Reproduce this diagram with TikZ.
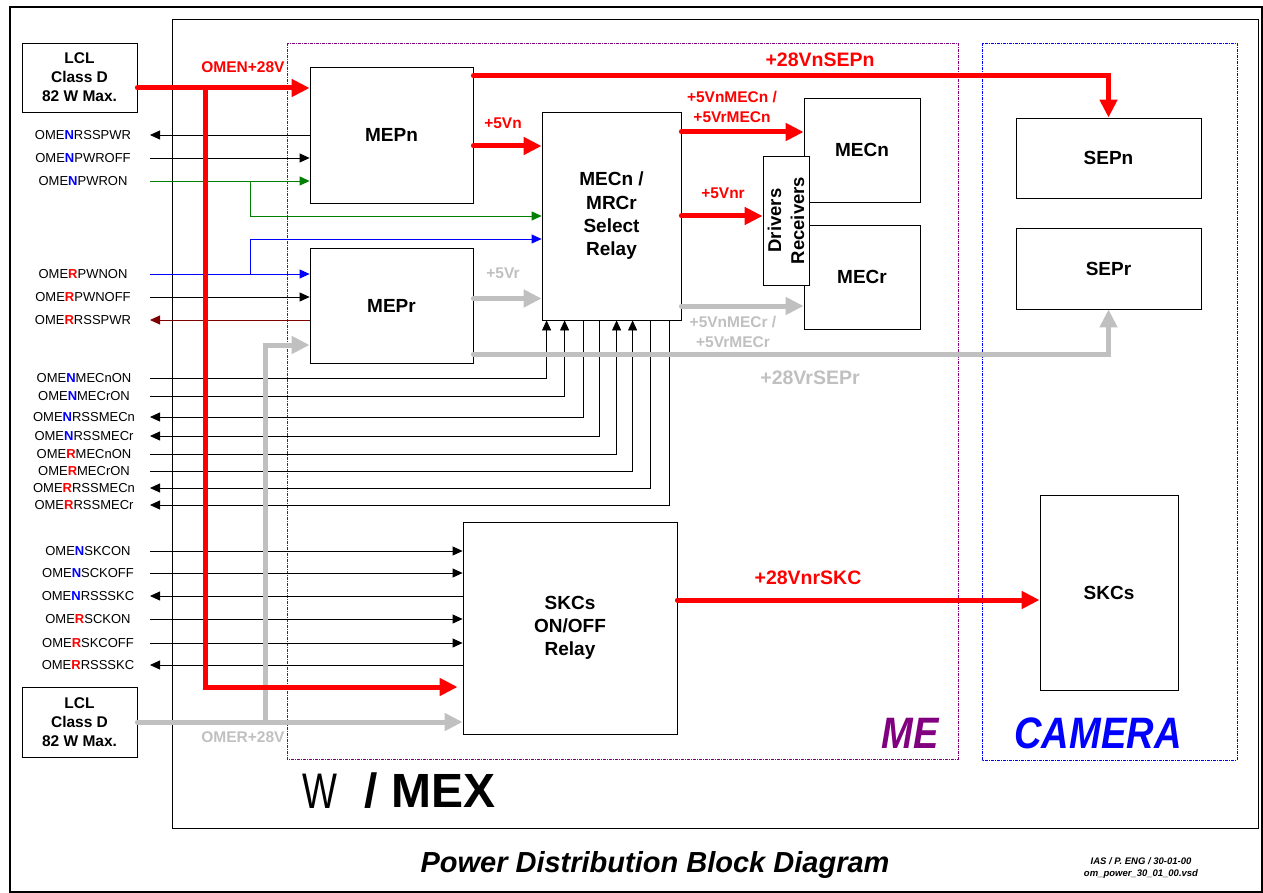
\documentclass[tikz,border=0pt]{standalone}
\usepackage{fontspec}
\setmainfont{Liberation Sans}
\usetikzlibrary{arrows.meta}
\definecolor{pred}{RGB}{255,0,0}
\definecolor{pgray}{RGB}{192,192,192}
\definecolor{pgreen}{RGB}{0,128,0}
\definecolor{pblue}{RGB}{0,0,255}
\definecolor{pmaroon}{RGB}{128,0,0}
\definecolor{ppurple}{RGB}{128,0,128}
\newcommand{\fsz}[2]{\fontsize{#1}{#2}\selectfont}
\newcommand{\omen}{OME{\bfseries\color{pblue}N}}
\newcommand{\omer}{OME{\bfseries\color{pred}R}}
\tikzset{
  blk/.style={draw,fill=white,line width=0.8pt,align=center,inner sep=0pt,
    font=\bfseries\fsz{19}{23.3}},
  siglab/.style={inner sep=0pt,font=\fsz{13}{15}},
  sig/.style={line width=0.8pt},
  sigin/.style={-{Triangle[length=10pt,width=9pt]}},
  sigout/.style={{Triangle[length=10pt,width=9pt]}-},
  pwr/.style={line width=5pt,line cap=round,-{Triangle[length=18pt,width=17pt]}},
  pwrlab/.style={inner sep=0pt,align=center,font=\bfseries\fsz{15.5}{20}},
  biglab/.style={inner sep=0pt,font=\bfseries\fsz{19.5}{23}},
  areabox/.style={line width=0.8pt,dash pattern=on 3pt off 1pt on 1pt off 1pt},
}
\begin{document}
\begin{tikzpicture}[x=1pt,y=-1pt]
  \useasboundingbox (0,0) rectangle (1263,893);
  % frames
  \draw[line width=1.5pt] (10,7) rectangle (1262,892);
  \draw[line width=1pt] (172,20) rectangle (1258,828);
  \draw[areabox,ppurple] (287,43) rectangle (958,759);
  \draw[areabox,pblue] (982,43) rectangle (1237,760);

  % blocks
  \node[blk,minimum width=115pt,minimum height=69pt,font=\bfseries\fsz{15.5}{19}] (lcln) at (79.5,77.5) {LCL\\Class D\\82 W Max.};
  \node[blk,minimum width=115pt,minimum height=70pt,font=\bfseries\fsz{15.5}{19}] (lclr) at (79.5,722) {LCL\\Class D\\82 W Max.};
  \node[blk,minimum width=163pt,minimum height=136pt] (mepn) at (391.5,135) {MEPn};
  \node[blk,minimum width=163pt,minimum height=115pt] (mepr) at (391.5,305.5) {MEPr};
  \node[blk,minimum width=139pt,minimum height=208pt] (sel) at (611.5,216) {MECn /\\MRCr\\Select\\Relay};
  \node[blk,minimum width=116pt,minimum height=104pt] (mecn) at (862,150) {MECn};
  \node[blk,minimum width=116pt,minimum height=104pt] (mecr) at (862,277) {MECr};
  \node[blk,rotate=90,minimum width=129pt,minimum height=46pt,font=\bfseries\fsz{18.5}{23}] (drv) at (786,220.5) {Drivers\\Receivers};
  \node[blk,minimum width=185pt,minimum height=80pt] (sepn) at (1108.5,158) {SEPn};
  \node[blk,minimum width=185pt,minimum height=81pt] (sepr) at (1108.5,268.5) {SEPr};
  \node[blk,minimum width=138pt,minimum height=195pt] (skcs) at (1109,592.5) {SKCs};
  \node[blk,minimum width=214pt,minimum height=212pt] (skcr) at (570,628) {SKCs\\ON/OFF\\Relay};

  % MEP signals
  \foreach \i/\yy/\lab in {1/135/\omen RSSPWR,2/158/\omen PWROFF,3/181/\omen PWRON,
      4/274/\omer PWNON,5/297/\omer PWNOFF,6/320/\omer RSSPWR} {
    \coordinate (t\i) at (150,\yy);
    \node[siglab] (tl\i) at (83,\yy) {\lab};
  }
  \draw[sig,sigout] (t1) -- (t1 -| mepn.west);
  \draw[sig,sigin] (t2) -- (t2 -| mepn.west);
  \draw[sig,sigin,pgreen] (t3) -- (t3 -| mepn.west);
  \coordinate (gb) at (250,181);
  \draw[sig,sigin,pgreen] (gb) |- (sel.west);
  \draw[sig,sigin,pblue] (t4) -- (t4 -| mepr.west);
  \coordinate (bb) at (250,274);
  \coordinate (bs) at ([yshift=-23pt]sel.west);
  \draw[sig,sigin,pblue] (bb) |- (bs);
  \draw[sig,sigin] (t5) -- (t5 -| mepr.west);
  \draw[sig,sigout,pmaroon] (t6) -- (t6 -| mepr.west);

  % MEC signals
  \foreach \i/\yy/\dx/\lab/\ar in {1/378/5/\omen MECnON/sigin,2/396/23/\omen MECrON/sigin,
      3/417/42/\omen RSSMECn/sigout,4/436/58/\omen RSSMECr/sigout,
      5/454/75/\omer MECnON/sigin,6/471/91/\omer MECrON/sigin,
      7/488/109/\omer RSSMECn/sigout,8/505/128/\omer RSSMECr/sigout} {
    \coordinate (m\i) at (150,\yy);
    \node[siglab] (ml\i) at (84,\yy) {\lab};
    \draw[sig,\ar] (m\i) -| ([xshift=\dx pt]sel.south west);
  }

  % SKC signals
  \foreach \i/\yy/\lab/\ar in {1/551/\omen SKCON/sigin,2/573/\omen SCKOFF/sigin,
      3/596/\omen RSSSKC/sigout,4/619/\omer SCKON/sigin,
      5/643/\omer SKCOFF/sigin,6/665/\omer RSSSKC/sigout} {
    \coordinate (k\i) at (150,\yy);
    \node[siglab] (kl\i) at (88,\yy) {\lab};
    \draw[sig,\ar] (k\i) -- (k\i -| skcr.west);
  }

  % power lines
  \coordinate (cr) at ([yshift=-48.5pt]mepr.east);
  \draw[pwr,pgray] (cr) -| (sepr.south);
  \coordinate (cn) at ([yshift=59pt]mepn.east);
  \draw[pwr,pred] (cn) -| (sepn.north);
  \coordinate (c5n) at ([yshift=-11pt]mepn.east);
  \draw[pwr,pred] (c5n) -- (c5n -| sel.west);
  \coordinate (c5r) at ([yshift=7pt]mepr.east);
  \draw[pwr,pgray] (c5r) -- (c5r -| sel.west);
  \coordinate (cmn) at ([yshift=84pt]sel.east);
  \draw[pwr,pred] (cmn) -- (cmn -| mecn.west);
  \draw[pwr,pred] (sel.east) -- (sel.east -| drv.north);
  \coordinate (cmr) at ([yshift=-90pt]sel.east);
  \draw[pwr,pgray] (cmr) -- (cmr -| mecr.west);
  \coordinate (ck) at ([yshift=28pt]skcr.east);
  \draw[pwr,pred] (ck) -- (ck -| skcs.west);

  \coordinate (jr) at (265,722);
  \coordinate (jr2) at (265,345);
  \draw[pwr,pgray] (lclr.east) -- (lclr.east -| skcr.west);
  \draw[pwr,pgray] (jr) -- (jr2) -- (jr2 -| mepr.west);
  \coordinate (jn) at (205,88);
  \coordinate (jn2) at (205,687);
  \coordinate (sk1) at (jn2 -| skcr.west);
  \draw[pwr,pred] (lcln.east |- jn) -- (jn -| mepn.west);
  \draw[pwr,pred] (jn) -- (jn2) -- ([xshift=-5pt]sk1);

  % labels
  \node[pwrlab,pred] (lomen) at (243,67) {OMEN+28V};
  \node[pwrlab,pgray] (lomer) at (243,737) {OMER+28V};
  \node[pwrlab,pred] (l5n) at (503,123) {+5Vn};
  \node[pwrlab,pgray] (l5r) at (503,273) {+5Vr};
  \node[pwrlab,pred] (lmn) at (732,107) {+5VnMECn /\\+5VrMECn};
  \node[pwrlab,pred] (l5nr) at (723,193) {+5Vnr};
  \node[pwrlab,pgray] (lmr) at (733,332) {+5VnMECr /\\+5VrMECr};
  \node[biglab,pred] (lsepn) at (820,60) {+28VnSEPn};
  \node[biglab,pgray] (lsepr) at (810,378) {+28VrSEPr};
  \node[biglab,pred] (lskc) at (808,578) {+28VnrSKC};
  \node[inner sep=0pt,ppurple,xscale=0.865,font=\bfseries\itshape\fsz{44}{50}] (lme) at (910,733) {ME};
  \node[inner sep=0pt,pblue,xscale=0.865,font=\bfseries\itshape\fsz{44}{50}] (lcam) at (1098,733) {CAMERA};
  \node[inner sep=0pt,xscale=0.74,font=\fsz{50}{56}] (lw) at (320,791) {W};
  \node[inner sep=0pt,font=\bfseries\fsz{48}{54}] (lmex) at (430,791) {/ MEX};
  \node[inner sep=0pt,anchor=base,font=\bfseries\itshape\fsz{29}{34}] (ltitle) at (655,872) {Power Distribution Block Diagram};
  \node[inner sep=0pt,align=center,font=\bfseries\itshape\fsz{9.5}{11.5}] (lref) at (1141,868) {IAS / P. ENG / 30-01-00\\om\_power\_30\_01\_00.vsd};
\end{tikzpicture}
\end{document}
